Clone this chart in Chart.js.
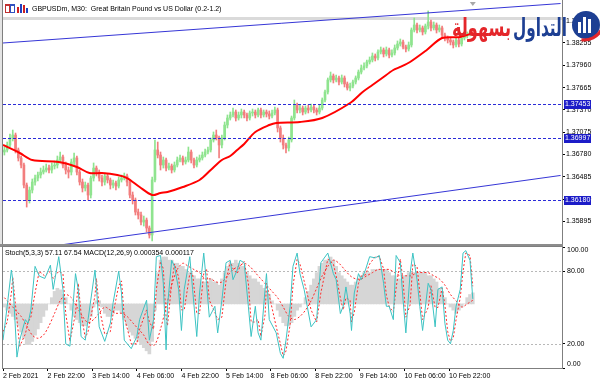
<!DOCTYPE html>
<html>
<head>
<meta charset="utf-8">
<script src="https://cdn.jsdelivr.net/npm/chart.js@4.4.1/dist/chart.umd.min.js"></script>
<style>
  html, body { margin: 0; padding: 0; background: #fff; width: 600px; height: 384px; overflow: hidden; }
  #wrap { position: relative; width: 600px; height: 384px; }
  canvas { position: absolute; left: 0; }
  #price { top: 0; }
  #osc { top: 240px; }
</style>
</head>
<body>
<div id="wrap">
  <canvas id="price" width="600" height="246"></canvas>
  <canvas id="osc" width="600" height="144"></canvas>
</div>
<script>
// Zaman ekseni: M30 bar sırası (0 = 2 Feb 06:00), her mum 1 saat = 2 bar
const xTickBars = [0, 32, 64, 96, 128, 160, 192, 224, 256, 288, 320];
const xLabels = ['2 Feb 2021', '2 Feb 22:00', '3 Feb 14:00', '4 Feb 06:00', '4 Feb 22:00', '5 Feb 14:00',
                 '8 Feb 06:00', '8 Feb 22:00', '9 Feb 14:00', '10 Feb 06:00', '10 Feb 22:00'];

// Fiyat ekseni
const priceTicks = [1.38550, 1.38255, 1.37960, 1.37665, 1.37370, 1.37075, 1.36780, 1.36485, 1.36190, 1.35895];
const hLevels = [1.37453, 1.36997, 1.36180];
const topLevel = 1.38580; // gri yatay çizgi

// GBPUSD mumları (saatlik)
const open = [1.36813,1.36840,1.36906,1.36998,1.37038,1.36840,1.36734,1.36641,1.36376,1.36178,
1.36310,1.36416,1.36469,1.36509,1.36548,1.36575,1.36601,1.36575,1.36628,1.36641,
1.36707,1.36747,1.36641,1.36575,1.36548,1.36681,1.36734,1.36548,1.36416,1.36337,
1.36376,1.36244,1.36469,1.36601,1.36548,1.36469,1.36416,1.36496,1.36443,1.36376,
1.36403,1.36363,1.36443,1.36469,1.36496,1.36416,1.36244,1.36178,1.36019,1.35980,
1.35887,1.35913,1.35808,1.35715,1.36443,1.36840,1.36773,1.36641,1.36707,1.36601,
1.36628,1.36575,1.36641,1.36707,1.36734,1.36681,1.36707,1.36813,1.36707,1.36641,
1.36707,1.36734,1.36773,1.36813,1.36840,1.36972,1.37038,1.36998,1.36906,1.36998,
1.37170,1.37263,1.37303,1.37342,1.37263,1.37303,1.37342,1.37303,1.37263,1.37329,
1.37342,1.37303,1.37369,1.37303,1.37342,1.37316,1.37289,1.37329,1.37369,1.37131,
1.36998,1.36906,1.36866,1.36972,1.37263,1.37435,1.37369,1.37395,1.37342,1.37395,
1.37369,1.37408,1.37369,1.37342,1.37395,1.37501,1.37607,1.37766,1.37819,1.37766,
1.37792,1.37739,1.37792,1.37713,1.37660,1.37686,1.37739,1.37792,1.37871,1.37924,
1.37951,1.38004,1.38030,1.38083,1.38057,1.38136,1.38163,1.38110,1.38163,1.38096,
1.38123,1.38189,1.38242,1.38268,1.38202,1.38176,1.38229,1.38427,1.38493,1.38427,
1.38454,1.38401,1.38480,1.38533,1.38454,1.38493,1.38427,1.38454,1.38361,1.38321,
1.38295,1.38268,1.38229,1.38295,1.38242,1.38321,1.38348,1.38374,1.38401];
const high = [1.36879,1.36945,1.37051,1.37104,1.37064,1.36866,1.36760,1.36668,1.36403,1.36350,
1.36456,1.36509,1.36548,1.36601,1.36628,1.36654,1.36641,1.36668,1.36694,1.36760,
1.36813,1.36773,1.36681,1.36615,1.36720,1.36800,1.36760,1.36575,1.36456,1.36416,
1.36403,1.36496,1.36668,1.36628,1.36575,1.36509,1.36535,1.36522,1.36469,1.36443,
1.36429,1.36482,1.36509,1.36535,1.36522,1.36443,1.36284,1.36205,1.36059,1.36019,
1.35966,1.35940,1.35834,1.36482,1.36972,1.36945,1.36813,1.36747,1.36734,1.36668,
1.36654,1.36681,1.36747,1.36773,1.36760,1.36747,1.36879,1.36840,1.36734,1.36747,
1.36773,1.36813,1.36853,1.36879,1.36998,1.37078,1.37104,1.37025,1.37038,1.37210,
1.37303,1.37342,1.37395,1.37369,1.37342,1.37382,1.37369,1.37329,1.37356,1.37382,
1.37369,1.37395,1.37395,1.37369,1.37369,1.37356,1.37369,1.37408,1.37395,1.37157,
1.37038,1.36932,1.37011,1.37289,1.37501,1.37461,1.37435,1.37422,1.37422,1.37435,
1.37448,1.37435,1.37395,1.37435,1.37528,1.37633,1.37792,1.37871,1.37845,1.37832,
1.37819,1.37832,1.37819,1.37739,1.37726,1.37766,1.37819,1.37898,1.37964,1.37991,
1.38030,1.38070,1.38123,1.38110,1.38163,1.38202,1.38189,1.38202,1.38189,1.38163,
1.38229,1.38282,1.38308,1.38295,1.38229,1.38268,1.38454,1.38586,1.38520,1.38493,
1.38480,1.38506,1.38679,1.38559,1.38533,1.38520,1.38493,1.38480,1.38387,1.38348,
1.38321,1.38295,1.38321,1.38321,1.38348,1.38374,1.38401,1.38427,1.38427];
const low = [1.36773,1.36813,1.36879,1.36959,1.36800,1.36694,1.36601,1.36337,1.36085,1.36138,
1.36271,1.36376,1.36429,1.36469,1.36522,1.36548,1.36535,1.36535,1.36588,1.36601,
1.36668,1.36601,1.36522,1.36469,1.36509,1.36641,1.36509,1.36376,1.36284,1.36297,
1.36178,1.36205,1.36429,1.36496,1.36429,1.36363,1.36376,1.36403,1.36324,1.36337,
1.36310,1.36337,1.36416,1.36443,1.36363,1.36205,1.36125,1.35980,1.35927,1.35847,
1.35834,1.35755,1.35675,1.35636,1.36416,1.36734,1.36575,1.36601,1.36562,1.36575,
1.36535,1.36548,1.36615,1.36681,1.36641,1.36654,1.36681,1.36668,1.36601,1.36615,
1.36681,1.36707,1.36747,1.36787,1.36813,1.36945,1.36972,1.36734,1.36866,1.36972,
1.37131,1.37236,1.37276,1.37223,1.37236,1.37263,1.37263,1.37223,1.37236,1.37289,
1.37263,1.37276,1.37263,1.37276,1.37276,1.37250,1.37263,1.37303,1.37078,1.36945,
1.36853,1.36800,1.36826,1.36945,1.37236,1.37329,1.37329,1.37303,1.37316,1.37329,
1.37342,1.37329,1.37303,1.37316,1.37369,1.37475,1.37580,1.37739,1.37726,1.37739,
1.37699,1.37713,1.37673,1.37633,1.37620,1.37660,1.37713,1.37766,1.37845,1.37898,
1.37924,1.37977,1.38004,1.38017,1.38030,1.38110,1.38070,1.38083,1.38057,1.38070,
1.38096,1.38163,1.38215,1.38176,1.38136,1.38149,1.38202,1.38401,1.38387,1.38401,
1.38361,1.38374,1.38440,1.38414,1.38427,1.38387,1.38401,1.38321,1.38282,1.38255,
1.38229,1.38189,1.38202,1.38202,1.38215,1.38295,1.38321,1.38348,1.38361];
const close = [1.36840,1.36906,1.36998,1.37038,1.36840,1.36734,1.36641,1.36376,1.36178,1.36310,
1.36416,1.36469,1.36509,1.36548,1.36575,1.36601,1.36575,1.36628,1.36641,1.36707,
1.36747,1.36641,1.36575,1.36548,1.36681,1.36734,1.36548,1.36416,1.36337,1.36376,
1.36244,1.36469,1.36601,1.36548,1.36469,1.36416,1.36496,1.36443,1.36376,1.36403,
1.36363,1.36443,1.36469,1.36496,1.36416,1.36244,1.36178,1.36019,1.35980,1.35887,
1.35913,1.35808,1.35715,1.36443,1.36840,1.36773,1.36641,1.36707,1.36601,1.36628,
1.36575,1.36641,1.36707,1.36734,1.36681,1.36707,1.36813,1.36707,1.36641,1.36707,
1.36734,1.36773,1.36813,1.36840,1.36972,1.37038,1.36998,1.36906,1.36998,1.37170,
1.37263,1.37303,1.37342,1.37263,1.37303,1.37342,1.37303,1.37263,1.37329,1.37342,
1.37303,1.37369,1.37303,1.37342,1.37316,1.37289,1.37329,1.37369,1.37131,1.36998,
1.36906,1.36866,1.36972,1.37263,1.37435,1.37369,1.37395,1.37342,1.37395,1.37369,
1.37408,1.37369,1.37342,1.37395,1.37501,1.37607,1.37766,1.37819,1.37766,1.37792,
1.37739,1.37792,1.37713,1.37660,1.37686,1.37739,1.37792,1.37871,1.37924,1.37951,
1.38004,1.38030,1.38083,1.38057,1.38136,1.38163,1.38110,1.38163,1.38096,1.38123,
1.38189,1.38242,1.38268,1.38202,1.38176,1.38229,1.38427,1.38493,1.38427,1.38454,
1.38401,1.38480,1.38533,1.38454,1.38493,1.38427,1.38454,1.38361,1.38321,1.38295,
1.38268,1.38229,1.38295,1.38242,1.38321,1.38348,1.38374,1.38401,1.38387];

// Hareketli ortalama (kırmızı), bar sırası ve değer
const maBars = [0, 12, 21, 40, 53, 62, 71, 82, 89, 98, 107, 113, 118, 129, 141, 149, 157, 163, 168, 173,
                181, 191, 196, 213, 229, 249, 258, 265, 272, 280, 285, 292, 304, 315, 328, 337];
const maValues = [1.36906, 1.36800, 1.36707, 1.36681, 1.36615, 1.36535, 1.36535, 1.36509, 1.36469, 1.36350,
                  1.36244, 1.36271, 1.36284, 1.36350, 1.36443, 1.36575, 1.36707, 1.36760, 1.36840, 1.36919,
                  1.37078, 1.37170, 1.37197, 1.37210, 1.37263, 1.37461, 1.37607, 1.37699, 1.37792, 1.37898,
                  1.37938, 1.38004, 1.38163, 1.38321, 1.38334, 1.38387];

// Trend çizgileri
const trendUpperBars = [0, 400];
const trendUpperValues = [1.38255, 1.38777];
const trendLowerBars = [40, 400];
const trendLowerValues = [1.35580, 1.36503];

// Alt pencere: Stoch(5,3,3) ve MACD(12,26,9)
const oscTicks = [0, 20, 80, 100];
const oscLevels = [20, 80];
const stochBars = [0,3,6,7,10,12,16,18,20,23,26,30,34,36,40,43,45,48,52,54,
56,59,61,66,67,69,73,77,79,83,85,87,92,96,98,103,105,108,110,113,
115,117,118,121,123,126,128,130,134,136,139,141,144,146,148,152,154,157,160,163,
165,168,170,173,176,178,181,183,185,188,189,191,196,199,201,203,206,208,211,213,
216,221,225,228,233,237,239,242,244,246,249,250,252,255,257,260,263,267,270,273,
275,277,280,282,285,287,289,292,294,297,299,301,305,307,310,312,315,317,319,321,
323,325,328,330,332,335,337];
const stochMain = [23,51,81,73,9,23,40,37,48,84,76,74,85,65,92,65,20,18,78,65,
26,23,40,81,67,34,22,37,54,80,62,23,16,26,40,56,23,40,92,93,
70,15,51,89,84,65,31,65,92,65,26,62,95,70,42,51,29,56,87,89,
73,81,89,87,51,26,51,29,23,65,78,40,29,12,8,23,51,84,95,78,
65,34,40,87,95,78,73,45,51,67,45,31,62,78,73,81,92,91,93,70,
51,51,40,93,87,56,29,78,95,73,51,31,70,65,34,65,67,37,23,20,
31,51,65,95,97,89,57.11];
const stochSignal = [30,38,62,75,40,18,28,38,42,62,80,76,80,74,80,78,45,22,45,70,
45,25,30,60,74,50,28,30,45,68,72,42,20,20,32,48,38,32,65,88,
82,42,35,70,86,75,48,48,78,78,45,45,78,82,56,46,40,42,72,88,
82,78,84,88,70,38,38,40,26,44,70,60,34,20,10,14,36,68,90,86,
72,48,38,62,90,86,76,58,48,58,56,38,46,70,76,77,86,92,92,82,
60,51,46,66,90,72,42,52,86,84,62,40,50,68,50,50,66,52,30,22,
25,40,58,80,95,93,67.54];
// MACD histogramı (her saatlik mum için) ve sinyal (iki mumda bir)
const macdHist = [-0.0001,-0.0002,-0.0003,-0.0004,-0.0005,-0.0007,-0.0009,-0.0011,-0.0013,-0.0013,
-0.0012,-0.0010,-0.0008,-0.0006,-0.0004,-0.0002,0.0000,0.0002,0.0004,0.0005,
0.00045,0.0003,0.0002,0.0000,-0.0002,-0.0004,-0.0005,-0.0006,-0.0007,-0.0007,
-0.0006,-0.0004,-0.0001,0.0001,0.0001,-0.0001,-0.0003,-0.0004,-0.0004,-0.0003,
-0.0002,-0.0002,-0.0003,-0.0005,-0.0007,-0.0009,-0.0010,-0.0011,-0.0012,-0.0013,
-0.0014,-0.0015,-0.0016,-0.0012,-0.0002,0.0010,0.0014,0.0015,0.0015,0.0014,
0.0014,0.0013,0.0013,0.0012,0.0012,0.0011,0.0010,0.0010,0.0009,0.0008,
0.0008,0.0007,0.0007,0.0007,0.0008,0.0007,0.0007,0.0006,0.0008,0.0010,
0.0012,0.0013,0.0013,0.0014,0.0013,0.0012,0.0012,0.0010,0.0009,0.0008,
0.0008,0.0007,0.0006,0.0005,0.0004,0.0003,0.0001,0.0000,-0.0002,-0.0004,
-0.0006,-0.0007,-0.0007,-0.0006,-0.0004,-0.0002,-0.0001,0.0000,0.0002,0.0004,
0.0006,0.0008,0.0010,0.0012,0.0013,0.0014,0.0014,0.0015,0.0014,0.0012,
0.0010,0.0009,0.0008,0.0007,0.0006,0.0006,0.0007,0.0008,0.0009,0.0010,
0.0010,0.0010,0.0011,0.0011,0.0011,0.0011,0.0011,0.0011,0.0010,0.0009,
0.0009,0.0008,0.0008,0.0009,0.0009,0.0010,0.0010,0.0010,0.0010,0.0010,
0.0010,0.0010,0.0009,0.0009,0.0008,0.0007,0.0005,0.0004,0.0002,0.0000,
-0.0001,-0.0002,-0.0003,-0.0002,-0.0001,0.0000,0.0002,0.0003,0.000354];
const macdSignal = [0.0002,0.0000,-0.0002,-0.0004,-0.0007,-0.0010,-0.0011,-0.0010,-0.0007,-0.0003,
0.0001,0.0003,0.0002,-0.0001,-0.0004,-0.0006,-0.0005,-0.0003,-0.0001,-0.0002,
-0.0003,-0.0003,-0.0004,-0.0006,-0.0008,-0.0010,-0.0013,-0.0013,-0.0008,-0.0001,
0.0006,0.0011,0.0013,0.0012,0.0011,0.0010,0.0008,0.0008,0.0007,0.0007,
0.0009,0.0011,0.0012,0.0013,0.0012,0.0010,0.0008,0.0006,0.0004,0.0002,
-0.0001,-0.0004,-0.0005,-0.0004,-0.0002,0.0001,0.0005,0.0009,0.0012,0.0014,
0.0013,0.0011,0.0009,0.0008,0.0008,0.0009,0.0010,0.0011,0.0011,0.0011,
0.0010,0.0009,0.0009,0.0009,0.0010,0.0010,0.0010,0.0009,0.0008,0.0006,
0.0003,0.0001,-0.0001,0.0000,0.000117];

const FONT = '"Liberation Sans", Arial, sans-serif';
Chart.defaults.font.family = FONT;
Chart.defaults.font.size = 7;
Chart.defaults.color = '#000';
Chart.defaults.animation = false;

const BULL = '#8fe48f';
const BEAR = '#f27e7e';
const FRAME = '#7f7f7f';

// mumun ortası = 2i+1. bar
const candleX = open.map((o, i) => 2 * i + 1);
const candleColor = open.map((o, i) => close[i] >= o ? BULL : BEAR);
const pts = (xs, ys) => xs.map((x, k) => ({ x: x, y: ys[k] }));

function fixWidth(s) { s.width = 38; s.paddingTop = 0; s.paddingBottom = 0; }

const pricePlugin = {
    id: 'pricePlugin',
    beforeDatasetsDraw(chart) {
        const { ctx, chartArea: a, scales: { y } } = chart;
        ctx.save();
        ctx.strokeStyle = '#dadada'; ctx.lineWidth = 3;
        const py = y.getPixelForValue(topLevel);
        ctx.beginPath(); ctx.moveTo(a.left, py); ctx.lineTo(a.right, py); ctx.stroke();
        ctx.restore();
    },
    afterDatasetsDraw(chart) {
        const { ctx, chartArea: a, scales: { y } } = chart;
        ctx.save();
        ctx.strokeStyle = '#2b2bd8';
        ctx.lineWidth = 1;
        ctx.setLineDash([3, 2]);
        hLevels.forEach(v => {
            const py = Math.round(y.getPixelForValue(v)) + 0.5;
            ctx.beginPath(); ctx.moveTo(a.left, py); ctx.lineTo(a.right, py); ctx.stroke();
        });
        ctx.restore();
    },
    afterDraw(chart) {
        const { ctx, chartArea: a, scales: { x, y } } = chart;
        ctx.save();
        // çerçeve
        ctx.strokeStyle = FRAME; ctx.lineWidth = 1;
        ctx.beginPath();
        ctx.moveTo(a.left - 0.5, 0); ctx.lineTo(a.left - 0.5, a.bottom + 0.5);
        ctx.lineTo(a.right + 0.5, a.bottom + 0.5); ctx.lineTo(a.right + 0.5, 0);
        ctx.stroke();
        ctx.fillStyle = '#e4e4e4'; ctx.fillRect(0, 0, 2, 384);
        // seviye etiketleri
        ctx.font = '7px ' + FONT; ctx.textBaseline = 'middle'; ctx.textAlign = 'left';
        hLevels.forEach(v => {
            const py = Math.round(y.getPixelForValue(v));
            ctx.fillStyle = '#1c1cc8'; ctx.fillRect(a.right + 2, py - 4, 27, 9);
            ctx.fillStyle = '#fff'; ctx.fillText(v.toFixed(5), a.right + 3, py + 0.5);
        });
        // kaydırma işareti
        const sx = x.getPixelForValue(candleX[candleX.length - 1]);
        ctx.fillStyle = '#a8a8a8';
        ctx.beginPath(); ctx.moveTo(sx - 3, 2); ctx.lineTo(sx + 3, 2); ctx.lineTo(sx, 6); ctx.fill();
        // başlık
        ctx.fillStyle = '#c03030'; ctx.fillRect(5, 4, 5, 9);
        ctx.fillStyle = '#3050c0'; ctx.fillRect(10, 4, 5, 9);
        ctx.fillStyle = '#fff'; ctx.fillRect(6, 6, 3, 6); ctx.fillRect(11, 6, 3, 6);
        ctx.fillStyle = '#d02020'; ctx.fillRect(17, 7, 2, 6); ctx.fillRect(23, 5, 2, 8);
        ctx.fillStyle = '#2040c0'; ctx.fillRect(20, 4, 2, 9); ctx.fillRect(26, 8, 2, 5);
        ctx.fillStyle = '#000'; ctx.font = '7px ' + FONT;
        ctx.fillText('GBPUSDm, M30:  Great Britain Pound vs US Dollar (0.2-1.2)', 32, 9);
        // logo
        drawWord(ctx, 'التداول', '#1d3f93', 513, 567, 36);
        drawWord(ctx, 'بسهولة', '#e4262a', 452, 511, 36);
        ctx.fillStyle = '#1d3f93';
        ctx.beginPath(); ctx.arc(586, 25, 14, 0, Math.PI * 2); ctx.fill();
        ctx.fillStyle = '#fff';
        ctx.fillRect(578, 22, 3, 11); ctx.fillRect(583, 17, 3, 16); ctx.fillRect(588, 19, 3, 14);
        ctx.strokeStyle = '#e4262a'; ctx.lineWidth = 3;
        ctx.beginPath(); ctx.arc(584, 20, 20, 0.5, 1.7); ctx.stroke();
        ctx.restore();
    }
};

function drawWord(ctx, text, color, x0, x1, base) {
    ctx.save();
    ctx.font = 'bold 25px "DejaVu Sans"';
    ctx.direction = 'rtl';
    ctx.textAlign = 'right';
    ctx.textBaseline = 'alphabetic';
    const w = ctx.measureText(text).width;
    ctx.translate(x1, base);
    ctx.scale((x1 - x0) / w, 1);
    ctx.fillStyle = color;
    ctx.fillText(text, 0, 0);
    ctx.restore();
}

new Chart(document.getElementById('price'), {
    type: 'bar',
    data: {
        datasets: [
            { type: 'line', data: pts(trendUpperBars, trendUpperValues), borderColor: '#3636d6', borderWidth: 1, pointRadius: 0, order: 0 },
            { type: 'line', data: pts(trendLowerBars, trendLowerValues), borderColor: '#3636d6', borderWidth: 1, pointRadius: 0, order: 0 },
            { type: 'line', data: pts(maBars, maValues), borderColor: '#ff0000', borderWidth: 2, pointRadius: 0, tension: 0.3, order: 1 },
            { data: candleX.map((x, i) => ({ x: x, y: [open[i], close[i]] })), backgroundColor: candleColor,
              barThickness: 2, grouped: false, order: 2 },
            { data: candleX.map((x, i) => ({ x: x, y: [low[i], high[i]] })), backgroundColor: candleColor,
              barThickness: 1, grouped: false, order: 3 }
        ]
    },
    options: {
        responsive: false,
        layout: { padding: { left: 3, right: 0, top: 3, bottom: 1 } },
        plugins: { legend: { display: false }, tooltip: { enabled: false } },
        scales: {
            x: { type: 'linear', min: 0, max: 401, offset: false, display: false, grid: { offset: false } },
            y: {
                position: 'right', min: 1.35583, max: 1.38784,
                afterBuildTicks(s) { s.ticks = priceTicks.map(v => ({ value: v })); },
                afterFit: fixWidth,
                ticks: { callback: v => v.toFixed(5), padding: 1 },
                grid: { drawOnChartArea: false, tickLength: 3, color: '#000' },
                border: { display: false }
            }
        }
    },
    plugins: [pricePlugin]
});

const oscPlugin = {
    id: 'oscPlugin',
    beforeDatasetsDraw(chart) {
        const { ctx, chartArea: a, scales: { y } } = chart;
        ctx.save();
        ctx.strokeStyle = '#b8b8b8'; ctx.lineWidth = 1; ctx.setLineDash([2, 2]);
        oscLevels.forEach(v => {
            const py = Math.round(y.getPixelForValue(v)) + 0.5;
            ctx.beginPath(); ctx.moveTo(a.left, py); ctx.lineTo(a.right, py); ctx.stroke();
        });
        ctx.restore();
    },
    afterDraw(chart) {
        const { ctx, chartArea: a, scales: { y } } = chart;
        ctx.save();
        // pencere ayırıcı ve çerçeve
        ctx.fillStyle = '#8c8c8c'; ctx.fillRect(0, a.top - 3, a.right + 1, 3);
        ctx.strokeStyle = FRAME; ctx.lineWidth = 1;
        ctx.strokeRect(a.left - 0.5, a.top - 0.5, a.right - a.left + 1, a.bottom - a.top + 1);
        ctx.fillStyle = '#000'; ctx.font = '7px ' + FONT; ctx.textBaseline = 'middle'; ctx.textAlign = 'left';
        ctx.fillText('Stoch(5,3,3) 57.11 67.54 MACD(12,26,9) 0.000354 0.000117', a.left + 2, a.top + 6);
        // sağ eksen etiketleri (kenarlarda içeri itilir)
        oscTicks.forEach(v => {
            const py = Math.min(Math.max(y.getPixelForValue(v), a.top + 3), a.bottom - 4);
            ctx.fillText(v.toFixed(2), a.right + 5, py);
        });
        ctx.restore();
    }
};

new Chart(document.getElementById('osc'), {
    type: 'bar',
    data: {
        datasets: [
            { type: 'line', data: pts(stochBars, stochMain), borderColor: '#3cc3c3', borderWidth: 1, pointRadius: 0, order: 0 },
            { type: 'line', data: pts(stochBars, stochSignal), borderColor: '#ff2a2a', borderWidth: 1, borderDash: [2, 2], pointRadius: 0, order: 1 },
            { type: 'line', data: macdSignal.map((v, k) => ({ x: 4 * k + 1, y: v })), yAxisID: 'yM', borderColor: '#ff2a2a',
              borderWidth: 1, borderDash: [2, 2], pointRadius: 0, tension: 0.3, order: 2 },
            { data: macdHist.map((v, i) => ({ x: candleX[i], y: v })), yAxisID: 'yM', backgroundColor: '#d6d6d6',
              barThickness: 3, grouped: false, order: 3 }
        ]
    },
    options: {
        responsive: false,
        layout: { padding: { left: 3, right: 0, top: 7, bottom: 0 } },
        plugins: { legend: { display: false }, tooltip: { enabled: false } },
        scales: {
            x: {
                type: 'linear', min: 0, max: 401, offset: false,
                afterBuildTicks(s) { s.ticks = xTickBars.map(v => ({ value: v })); },
                afterFit(s) { s.height = 16; s.paddingLeft = 0; s.paddingRight = 0; },
                ticks: { callback: (v, i) => xLabels[i], align: 'start', autoSkip: false, maxRotation: 0, minRotation: 0, padding: 1 },
                grid: { drawOnChartArea: false, tickLength: 3, color: '#000', offset: false },
                border: { display: false }
            },
            y: {
                position: 'right', min: 0, max: 100,
                afterBuildTicks(s) { s.ticks = oscTicks.map(v => ({ value: v })); },
                afterFit: fixWidth,
                ticks: { display: false },
                grid: { drawOnChartArea: false, tickLength: 3, color: '#000' },
                border: { display: false }
            },
            yM: { display: false, min: -0.00205, max: 0.00182 }
        }
    },
    plugins: [oscPlugin]
});
</script>
</body>
</html>
